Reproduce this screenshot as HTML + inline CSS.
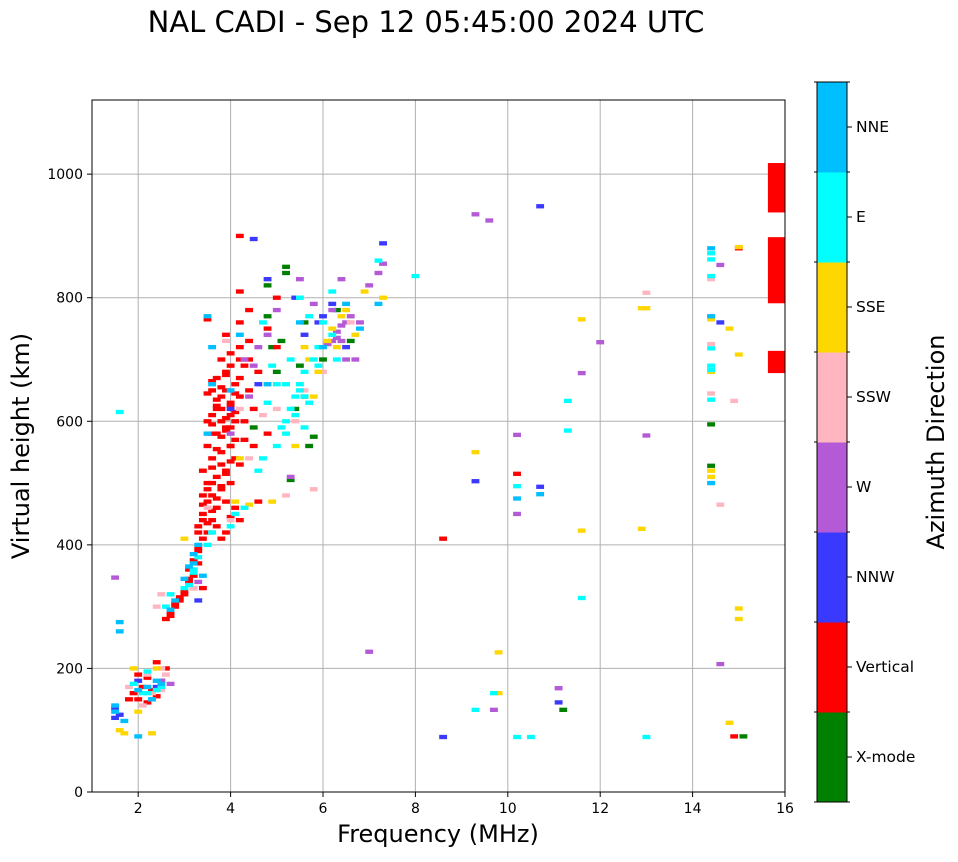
<!DOCTYPE html>
<html><head><meta charset="utf-8"><style>
body{margin:0;background:#fff}
svg text{font-family:"DejaVu Sans","Liberation Sans",sans-serif}
</style></head><body>
<svg id="c" width="958" height="857" xmlns="http://www.w3.org/2000/svg">
<text x="426" y="32" font-size="29" text-anchor="middle">NAL CADI - Sep 12 05:45:00 2024 UTC</text>
<g id="grid"></g><g id="marks"></g><g id="axes"></g><g id="cbar"></g>
<text x="438" y="842" font-size="24" text-anchor="middle">Frequency (MHz)</text>
<text transform="translate(29,446) rotate(-90)" font-size="24" text-anchor="middle">Virtual height (km)</text>
<text transform="translate(944,442) rotate(-90)" font-size="24" text-anchor="middle">Azimuth Direction</text>
</svg>
<script>
const xTicks=[2,4,6,8,10,12,14,16];
const yTicks=[0,200,400,600,800,1000];
const dirNames=["X-mode","Vertical","NNW","W","SSW","SSE","E","NNE"];
const dirColors=["#008000","#ff0000","#3a3aff","#b45ad6","#ffb6c1","#ffd700","#00ffff","#00bfff"];
const redF=[1.9,2.0,2.1,2.2,2.3,2.4,2.5,2.6,1.8,2.2,2.0,2.4,2.6,2.7,2.8,3.0,3.1,3.2,3.3,3.4,3.3,3.1,2.9,3.2,3.4,3.5,3.6,3.4,3.5,3.7,3.8,3.9,4.0,4.1,4.2,3.6,3.8,3.5,3.7,3.9,4.0,4.2,3.6,3.8,4.0,4.1,3.7,3.9,4.1,3.6,3.8,4.0,4.2,3.9,4.1,3.7,3.9,4.3,3.8,4.0,4.2,4.4,3.9,4.2,4.4,4.2,3.5,3.6,3.7,4.3,4.5,4.6,4.4,3.4,3.5,4.0,4.2,3.8,4.0,4.1,3.9,4.8,4.5,5.0,4.2,8.6,10.2,15.0,14.9,4.6,3.3,3.4,3.6,4.3,4.4,5.0,4.8,3.5,3.7,3.4,3.6,3.8,3.5,3.6,3.7,3.8,3.9,4.0,3.3,3.4,3.5,3.6,3.7,3.8,3.9,4.0,4.1,3.6,3.7,3.8,3.9,4.0,3.5,3.6,3.7,3.8,3.9,4.0,4.1,4.2,3.2,3.3,3.1,3.0,2.9,2.8,2.7];
const redH=[160,150,170,185,165,155,180,200,150,145,190,210,280,290,300,320,340,350,370,330,390,360,310,330,410,420,440,450,470,430,410,420,445,460,440,480,490,500,510,520,500,530,540,550,560,570,580,590,600,610,620,630,640,650,660,670,680,690,700,710,720,730,740,760,780,810,765,580,460,600,620,680,650,520,560,590,670,640,690,540,470,580,560,800,900,410,515,880,90,470,430,480,650,570,700,720,750,600,620,440,500,530,435,455,475,495,515,535,420,465,490,525,555,575,605,625,645,595,625,655,675,610,645,665,635,600,585,560,615,700,375,395,345,325,315,305,285];
const cyanF=[1.9,2.1,2.3,2.5,2.2,2.6,2.7,3.0,3.2,3.3,3.5,3.6,4.0,4.1,4.3,4.6,4.7,5.0,5.2,5.3,5.4,5.5,5.6,5.8,5.2,5.4,5.6,5.9,6.0,6.2,5.7,5.3,5.0,4.9,6.2,7.2,8.0,11.3,11.3,10.2,10.2,10.5,9.7,9.3,13.0,11.6,14.4,14.4,14.4,14.4,14.4,14.4,14.4,1.6,5.2,4.8,5.6,6.3,4.7,5.5,3.1,3.2,2.2,2.4,5.1,5.5,5.7,5.9];
const cyanH=[175,160,150,170,195,300,320,330,360,380,400,420,430,450,460,520,540,560,600,620,640,660,680,700,660,610,590,720,760,740,770,700,660,690,810,860,835,633,585,495,89,89,160,133,89,314,872,862,835,718,690,683,635,615,580,630,640,700,760,800,335,355,160,165,590,650,630,690];
const nneF=[1.5,1.5,1.6,1.6,1.7,2.0,2.2,2.4,2.8,3.0,3.2,3.3,3.5,3.6,3.6,3.5,4.0,4.2,4.8,5.5,6.0,6.5,6.8,7.2,14.4,14.4,14.4,10.2,10.7,2.0,3.4,2.7,3.1,3.2,2.3,2.5];
const nneH=[140,130,260,275,115,165,170,180,310,345,370,400,770,720,660,580,650,740,660,760,720,790,750,790,880,770,500,475,482,90,350,295,365,385,150,175];
const pinkF=[2.4,2.5,2.2,2.5,2.6,2.3,1.8,3.2,3.5,3.6,4.2,4.4,4.7,5.0,5.4,5.2,5.8,5.6,6.0,6.5,6.6,14.4,14.4,14.4,14.4,14.9,14.6,13.0,3.9,4.0,2.1,2.4,2.5];
const pinkH=[300,320,190,200,190,160,170,330,460,420,620,540,610,620,600,480,490,650,680,790,760,770,725,645,830,633,465,808,730,440,140,180,165];
const goldF=[1.6,1.7,2.3,2.4,3.0,4.1,4.4,4.9,5.4,5.8,6.1,6.2,6.3,6.4,6.5,5.9,5.7,6.9,7.3,9.3,9.8,9.8,11.6,11.6,12.9,13.0,12.9,14.4,14.4,14.4,14.4,15.0,14.8,15.0,15.0,15.0,14.8,2.0,4.2,5.6,6.7,1.9];
const goldH=[100,95,95,200,410,470,465,470,560,640,730,750,720,770,780,680,700,810,800,550,226,160,765,423,783,783,426,765,680,510,520,882,750,708,297,280,112,130,540,720,740,200];
const purpleF=[2.5,2.7,3.2,3.3,4.3,4.5,4.6,4.4,4.8,5.0,5.5,5.8,6.1,6.2,6.3,6.4,6.5,6.6,6.7,6.5,6.2,6.4,6.8,7.0,7.2,7.3,9.3,9.6,10.2,10.2,11.1,11.6,12.0,13.0,14.6,14.6,9.7,7.0,1.5,4.0,5.3,6.3,6.4];
const purpleH=[180,175,360,340,700,690,720,640,740,780,830,790,725,730,735,730,760,770,700,700,780,830,760,820,840,855,935,925,578,450,168,678,728,577,853,207,133,227,347,580,510,745,755];
const blueF=[1.5,1.6,1.5,2.0,2.4,3.3,4.0,4.6,5.4,5.6,5.9,6.2,6.5,7.3,4.5,10.7,9.3,10.7,8.6,11.1,14.6,6.0,4.8];
const blueH=[135,125,120,180,170,310,620,660,800,740,760,790,720,888,895,948,503,494,89,145,760,770,830];
const greenF=[4.8,5.2,5.2,4.8,5.1,4.9,5.5,5.6,5.7,5.3,6.0,6.3,6.6,5.0,4.5,5.8,11.2,14.4,14.4,15.1,5.6,5.4];
const greenH=[770,850,840,820,730,720,690,640,560,505,700,780,730,680,590,575,133,595,528,90,760,620];
const bigLo=[938,791,678];
const bigHi=[1018,898,714];

const NS="http://www.w3.org/2000/svg";
const X0=92,X1=785,Y0=792,Y1=100,FMIN=1,FMAX=16,HMIN=0,HMAX=1120;
const xs=f=>X0+(f-FMIN)/(FMAX-FMIN)*(X1-X0);
const ys=h=>Y0-(h-HMIN)/(HMAX-HMIN)*(Y0-Y1);
function mk(tag,attrs,parent){const e=document.createElementNS(NS,tag);for(const k in attrs)e.setAttribute(k,attrs[k]);parent.appendChild(e);return e;}
const grid=document.getElementById('grid'),marks=document.getElementById('marks'),axes=document.getElementById('axes'),cbar=document.getElementById('cbar');
xTicks.forEach(t=>{
  const x=xs(t);
  if(t<FMAX){const l=mk('line',{x1:x,x2:x,y1:Y1,y2:Y0,stroke:'#b0b0b0','stroke-width':1},grid);
  
  }
  mk('line',{x1:x,x2:x,y1:Y0,y2:Y0+5,stroke:'#000'},axes);
  const tx=mk('text',{x:x,y:Y0+21,'font-size':14,'text-anchor':'middle'},axes);tx.textContent=t;
  
  
});
yTicks.forEach(t=>{
  const y=ys(t);
  if(t>0){const l=mk('line',{x1:X0,x2:X1,y1:y,y2:y,stroke:'#b0b0b0','stroke-width':1},grid);
  
  }
  mk('line',{x1:X0-5,x2:X0,y1:y,y2:y,stroke:'#000'},axes);
  const tx=mk('text',{x:X0-9,y:y+5,'font-size':14,'text-anchor':'end'},axes);tx.textContent=t;
  
  
});
const series=[[greenF,greenH,0],[redF,redH,1],[blueF,blueH,2],[purpleF,purpleH,3],[pinkF,pinkH,4],[goldF,goldH,5],[cyanF,cyanH,6],[nneF,nneH,7]];
const W=0.17,H=7;
series.forEach(s=>{
  s[0].forEach((f,i)=>{
    const h=s[1][i];
    const r=mk('rect',{x:xs(f-W/2),y:ys(h+H/2),width:xs(f+W/2)-xs(f-W/2),height:ys(h-H/2)-ys(h+H/2),fill:dirColors[s[2]]},marks);
    
    
  });
});
bigLo.forEach((lo,i)=>{
  const r=mk('rect',{x:xs(15.63),y:ys(bigHi[i]),width:X1-xs(15.63),height:ys(lo)-ys(bigHi[i]),fill:dirColors[1]},marks);
  
  
});
const frame=mk('rect',{x:X0,y:Y1,width:X1-X0,height:Y0-Y1,fill:'none',stroke:'#000','stroke-width':1},axes);


const CX=817,CW=30,CT=82,CB=802,seg=(CB-CT)/dirNames.length;
dirNames.forEach((n,i)=>{
  const y=CB-(i+1)*seg;
  const r=mk('rect',{x:CX,y:y,width:CW,height:seg+0.5,fill:dirColors[i]},cbar);
  
  
  mk('line',{x1:CX+CW,x2:CX+CW+5,y1:y+seg/2,y2:y+seg/2,stroke:'#000'},cbar);
  const tx=mk('text',{x:CX+CW+9,y:y+seg/2+5,'font-size':15.5},cbar);tx.textContent=n;
  
  
});
for(let i=0;i<=dirNames.length;i++){const y=CB-i*seg;mk('line',{x1:CX+CW,x2:CX+CW+3,y1:y,y2:y,stroke:'#000'},cbar);mk('line',{x1:CX-3,x2:CX,y1:y,y2:y,stroke:'#000'},cbar);}
const cf=mk('rect',{x:CX,y:CT,width:CW,height:CB-CT,fill:'none',stroke:'#000'},cbar);


</script>
</body></html>
